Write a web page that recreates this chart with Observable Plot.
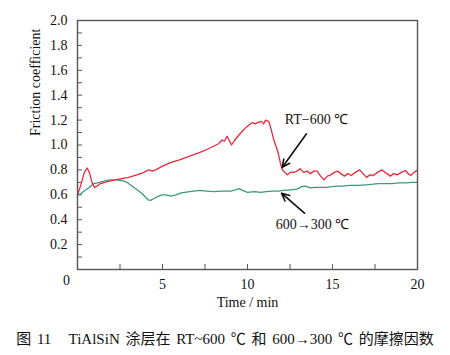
<!DOCTYPE html>
<html>
<head>
<meta charset="utf-8">
<script src="https://cdn.jsdelivr.net/npm/d3@7"></script>
<script src="https://cdn.jsdelivr.net/npm/@observablehq/plot@0.6"></script>
<style>
  body { margin: 0; background: #fff; }
  #cap { font: 15px "Liberation Serif", "Noto Sans CJK SC", serif; text-align: center; white-space: pre; word-spacing: 2px; line-height: 20px; margin-top: 11px; color: #111; }
</style>
</head>
<body>
<div id="chart"></div>
<div id="cap">图 11   TiAlSiN 涂层在 RT~600 ℃ 和 600→300 ℃ 的摩擦因数</div>
<script>
// Red: RT-600 °C
const redTime = [0,0.2,0.4,0.57,0.7,0.85,1.0,1.15,1.35,1.6,1.9,2.2,2.6,3.0,3.5,3.9,4.2,4.4,4.6,5.0,5.5,6.0,6.6,7.2,7.7,8.0,8.3,8.5,8.65,8.8,8.95,9.06,9.25,9.5,9.7,9.9,10.1,10.3,10.45,10.6,10.8,10.95,11.06,11.25,11.4,11.55,11.7,11.8,11.94,12.05,12.2,12.33,12.5,12.7,12.9,13.1,13.3,13.5,13.7,13.9,14.1,14.3,14.5,14.7,14.9,15.1,15.3,15.5,15.7,15.9,16.1,16.35,16.6,16.8,17.0,17.2,17.4,17.65,17.9,18.1,18.4,18.6,18.8,19.05,19.3,19.45,19.6,19.8,20.0];
const redMu = [0.60,0.68,0.78,0.815,0.78,0.70,0.66,0.67,0.69,0.70,0.71,0.72,0.73,0.74,0.76,0.78,0.80,0.79,0.80,0.83,0.86,0.88,0.91,0.94,0.97,0.99,1.01,1.04,1.03,1.07,1.03,1.00,1.04,1.08,1.11,1.14,1.16,1.18,1.17,1.18,1.19,1.17,1.20,1.19,1.12,1.04,0.98,0.94,0.85,0.80,0.78,0.76,0.78,0.78,0.79,0.81,0.78,0.79,0.77,0.79,0.79,0.75,0.72,0.75,0.76,0.78,0.79,0.77,0.75,0.77,0.755,0.78,0.80,0.77,0.74,0.76,0.755,0.78,0.80,0.78,0.75,0.77,0.76,0.78,0.795,0.77,0.755,0.78,0.80];
// Green: 600->300 °C
const greenTime = [0,0.2,0.4,0.7,0.96,1.3,1.55,1.9,2.3,2.6,2.9,3.2,3.5,3.8,4.0,4.15,4.3,4.5,4.7,4.98,5.2,5.5,5.8,6.1,6.6,7.2,7.6,8.0,8.5,9.0,9.3,9.5,9.7,10.0,10.4,10.8,11.1,11.5,11.8,12.1,12.5,12.9,13.2,13.4,13.7,14.0,14.3,14.6,15.0,15.3,15.6,16.0,16.5,17.0,17.4,17.7,18.1,18.5,18.9,19.3,19.7,20.0];
const greenMu = [0.60,0.61,0.63,0.66,0.69,0.70,0.71,0.72,0.72,0.715,0.70,0.67,0.64,0.61,0.58,0.56,0.555,0.57,0.585,0.60,0.60,0.59,0.60,0.615,0.625,0.635,0.63,0.625,0.63,0.63,0.64,0.65,0.635,0.62,0.625,0.62,0.625,0.63,0.63,0.635,0.64,0.645,0.665,0.67,0.655,0.66,0.66,0.66,0.665,0.67,0.67,0.675,0.675,0.68,0.685,0.69,0.69,0.69,0.695,0.695,0.70,0.70];

const xTickLabels = [5, 10, 15, 20];
const xMinorTicks = [2.5, 5, 7.5, 10, 12.5, 15, 17.5];
const yTickLabels = [0.2, 0.4, 0.6, 0.8, 1.0, 1.2, 1.4, 1.6, 1.8, 2.0];
const yMinorTicks = [0.1,0.2,0.3,0.4,0.5,0.6,0.7,0.8,0.9,1.0,1.1,1.2,1.3,1.4,1.5,1.6,1.7,1.8,1.9];

const labelText = ["RT\u2212600 \u2103", "600\u2192300 \u2103"];
const labelTime = [14.06, 13.82];
const labelMu = [1.205, 0.36];
const arrowFromTime = [13.47, 13.35];
const arrowFromMu = [1.09, 0.452];
const arrowToTime = [12.04, 12.0];
const arrowToMu = [0.82, 0.613];

const red = redTime.map((t, i) => ({t, mu: redMu[i]}));
const green = greenTime.map((t, i) => ({t, mu: greenMu[i]}));
const labels = labelText.map((s, i) => ({s, t: labelTime[i], mu: labelMu[i]}));
const arrows = arrowFromTime.map((t, i) => ({x1: t, y1: arrowFromMu[i], x2: arrowToTime[i], y2: arrowToMu[i]}));

const axisColor = "#555";
const fs = 14;
const chart = Plot.plot({
  width: 450,
  height: 318,
  marginLeft: 77,
  marginRight: 33,
  marginTop: 20,
  marginBottom: 49,
  style: {fontFamily: "'Liberation Serif', serif", fontSize: "14px", color: "#111", background: "#fff"},
  x: {domain: [0, 20]},
  y: {domain: [0, 2]},
  marks: [
    Plot.axisX(xMinorTicks, {tickSize: -5, text: null, stroke: axisColor, label: null}),
    Plot.axisX(xTickLabels, {tickSize: 0, tickPadding: 10, label: null, fill: "#111", fontSize: fs}),
    Plot.axisY(yMinorTicks, {tickSize: -5, text: null, stroke: axisColor, label: null}),
    Plot.axisY(yTickLabels, {tickSize: 0, tickPadding: 10, tickFormat: d => d.toFixed(1), label: null, fill: "#111", fontSize: fs}),
    Plot.text([0], {x: d => d, y: () => 0, text: d => String(d), dx: -11, dy: 11, fill: "#111", fontSize: fs}),
    Plot.text(["Friction coefficient"], {frameAnchor: "left", text: d => d, rotate: -90, dx: -42, dy: -9, fill: "#111", fontSize: fs}),
    Plot.text(["Time / min"], {frameAnchor: "bottom", text: d => d, dy: 37, fill: "#111", fontSize: fs}),
    Plot.line(green, {x: "t", y: "mu", stroke: "#3a9a7c", strokeWidth: 1.3}),
    Plot.line(red, {x: "t", y: "mu", stroke: "#e62a3e", strokeWidth: 1.3}),
    Plot.arrow(arrows, {x1: "x1", y1: "y1", x2: "x2", y2: "y2", stroke: "#111", strokeWidth: 1.6, headLength: 8, headAngle: 50}),
    Plot.text(labels, {x: "t", y: "mu", text: "s", fill: "#111", fontSize: fs}),
    Plot.frame({stroke: axisColor, strokeWidth: 1.4})
  ]
});
document.getElementById("chart").appendChild(chart);
</script>
</body>
</html>
